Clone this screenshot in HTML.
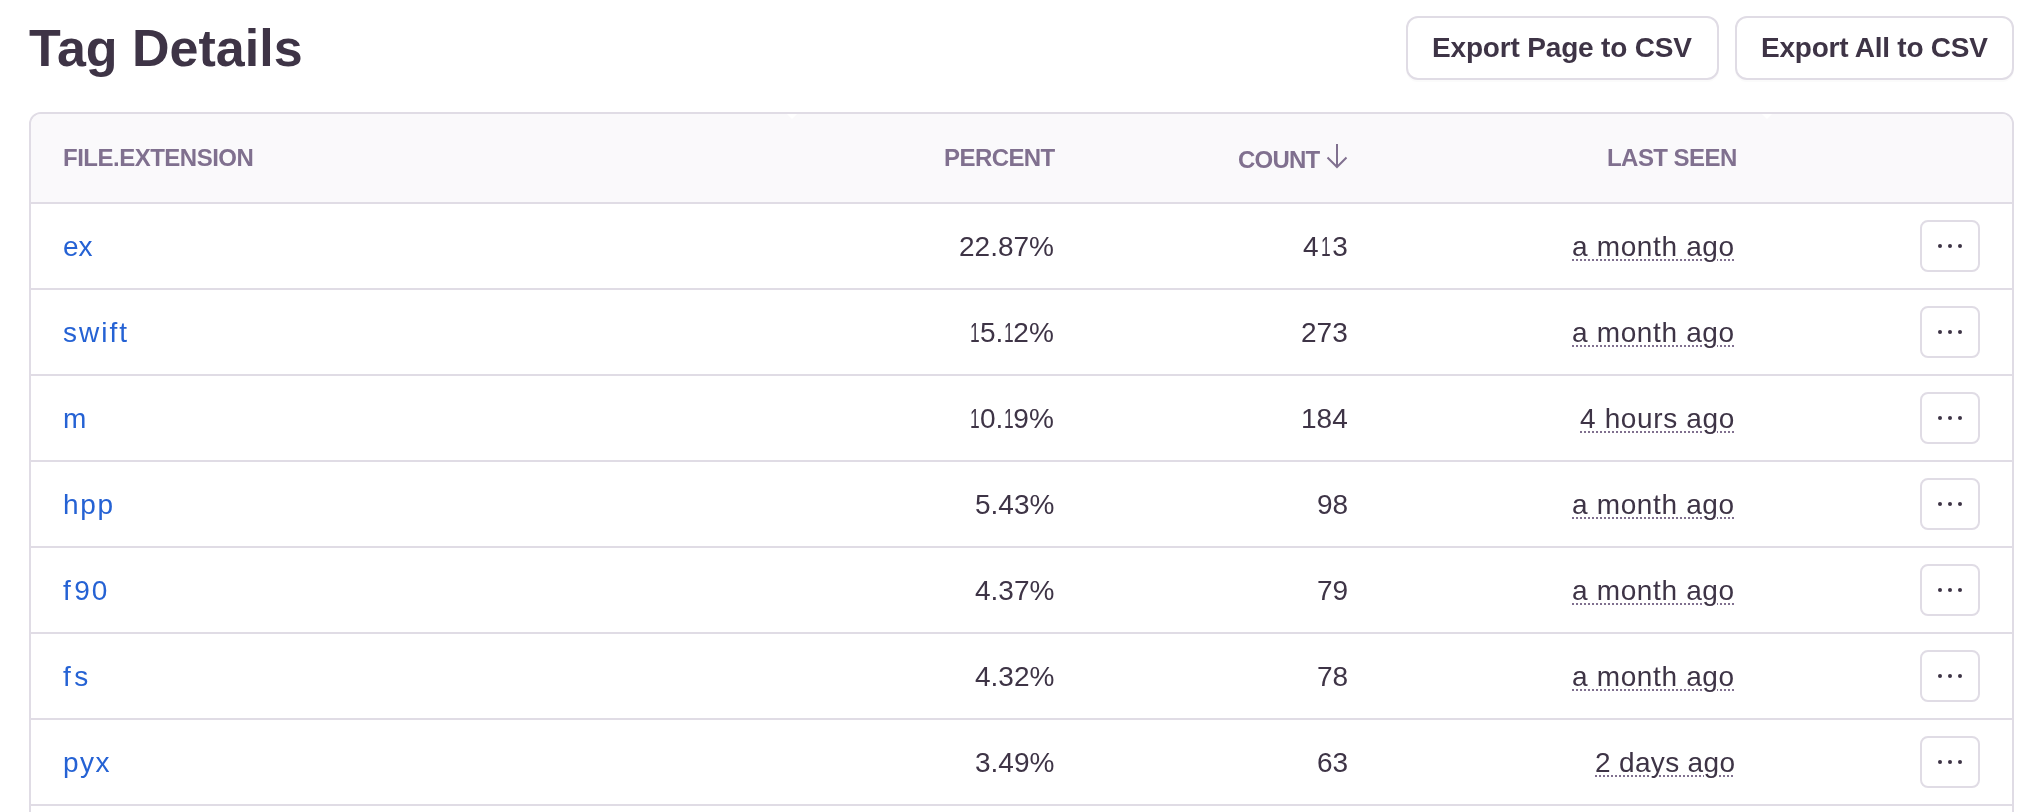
<!DOCTYPE html>
<html>
<head>
<meta charset="utf-8">
<style>
html,body{margin:0;padding:0;background:#fff;}
body{width:2024px;height:812px;overflow:hidden;position:relative;font-family:"Liberation Sans",sans-serif;}
.t{position:absolute;white-space:nowrap;will-change:transform;}
.title{left:29px;top:18px;font-size:52px;line-height:60px;font-weight:700;color:#3e3446;}
.btn{position:absolute;top:16px;height:64px;box-sizing:border-box;border:2px solid #e0dce5;border-radius:12px;background:#fff;box-shadow:0 2px 0 rgba(43,34,51,0.02);}
.bt{top:32px;line-height:32px;font-size:28px;font-weight:700;color:#3e3446;}
.panel{position:absolute;left:29px;top:112px;width:1985px;height:760px;box-sizing:border-box;border:2px solid #e0dce5;border-radius:12px;background:#fff;}
.headbg{position:absolute;left:31px;top:114px;width:1981px;height:88px;background:#faf9fb;border-radius:10px 10px 0 0;}
.tri{position:absolute;top:114px;width:0;height:0;border-left:5px solid transparent;border-right:5px solid transparent;border-top:5px solid #fff;}
.ln{position:absolute;left:31px;width:1981px;height:2px;background:#e0dce5;}
.hd{top:144px;line-height:28px;font-size:24px;font-weight:700;color:#80708f;}
.c{line-height:32px;font-size:28px;color:#3e3446;}
.one{display:inline-block;transform:scaleX(0.62);transform-origin:50% 0;margin:0 -2.8px;}
.lnk{color:#2562d4;}
.ts{text-decoration:underline dotted #80708f;text-decoration-thickness:2px;text-underline-offset:3px;}
.more{position:absolute;left:1920px;width:60px;height:52px;box-sizing:border-box;border:2px solid #e0dce5;border-radius:8px;background:#fff;}
.more i{position:absolute;top:22px;width:4px;height:4px;border-radius:50%;background:#3e3446;}
</style>
</head>
<body>
<div class="t title">Tag Details</div>
<div class="btn" style="left:1406px;width:313px;"></div>
<div class="t bt" style="left:1432px;letter-spacing:-0.17px;">Export Page to CSV</div>
<div class="btn" style="left:1735px;width:279px;"></div>
<div class="t bt" style="left:1761px;letter-spacing:-0.24px;">Export All to CSV</div>

<div class="panel"></div>
<div class="headbg"></div>
<div class="tri" style="left:787px"></div>
<div class="tri" style="left:1762px"></div>
<div class="t hd" style="left:63px;letter-spacing:-0.5px;">FILE.EXTENSION</div>
<div class="t hd" style="left:944px;letter-spacing:-0.57px;">PERCENT</div>
<div class="t hd" style="left:1238px;top:146px;letter-spacing:-0.8px;">COUNT</div>
<svg class="t" style="left:1326px;top:143px;" width="22" height="26" viewBox="0 0 22 26"><path d="M11 1V24.5M1.5 14.5L11 24L20.5 14.5" fill="none" stroke="#80708f" stroke-width="2"/></svg>
<div class="t hd" style="left:1607px;letter-spacing:-0.55px;">LAST SEEN</div>

<div class="ln" style="top:202px"></div>
<div class="ln" style="top:288px"></div>
<div class="ln" style="top:374px"></div>
<div class="ln" style="top:460px"></div>
<div class="ln" style="top:546px"></div>
<div class="ln" style="top:632px"></div>
<div class="ln" style="top:718px"></div>
<div class="ln" style="top:804px"></div>

<div id="rows"></div>
<div class="t c lnk" style="left:63px;top:231px;">ex</div>
<div class="t c" style="right:970px;top:231px;">22.87%</div>
<div class="t c" style="right:676px;top:231px;">4<span class="one" style="margin:0 -1px">1</span>3</div>
<div class="t c" style="right:289px;top:231px;"><span class="ts" style="letter-spacing:0.65px">a month ago</span></div>
<div class="more" style="top:220px"><i style="left:16px"></i><i style="left:26px"></i><i style="left:36px"></i></div>

<div class="t c lnk" style="left:63px;top:317px;letter-spacing:2.0px;">swift</div>
<div class="t c" style="right:970px;top:317px;"><span class="one">1</span>5.<span class="one">1</span>2%</div>
<div class="t c" style="right:676px;top:317px;">273</div>
<div class="t c" style="right:289px;top:317px;"><span class="ts" style="letter-spacing:0.65px">a month ago</span></div>
<div class="more" style="top:306px"><i style="left:16px"></i><i style="left:26px"></i><i style="left:36px"></i></div>

<div class="t c lnk" style="left:63px;top:403px;">m</div>
<div class="t c" style="right:970px;top:403px;"><span class="one">1</span>0.<span class="one">1</span>9%</div>
<div class="t c" style="right:676px;top:403px;">184</div>
<div class="t c" style="right:289px;top:403px;"><span class="ts" style="letter-spacing:0.65px">4 hours ago</span></div>
<div class="more" style="top:392px"><i style="left:16px"></i><i style="left:26px"></i><i style="left:36px"></i></div>

<div class="t c lnk" style="left:63px;top:489px;letter-spacing:1.65px;">hpp</div>
<div class="t c" style="right:970px;top:489px;">5.43%</div>
<div class="t c" style="right:676px;top:489px;">98</div>
<div class="t c" style="right:289px;top:489px;"><span class="ts" style="letter-spacing:0.65px">a month ago</span></div>
<div class="more" style="top:478px"><i style="left:16px"></i><i style="left:26px"></i><i style="left:36px"></i></div>

<div class="t c lnk" style="left:63px;top:575px;letter-spacing:2px;"><span style="letter-spacing:3.5px">f</span>90</div>
<div class="t c" style="right:970px;top:575px;">4.37%</div>
<div class="t c" style="right:676px;top:575px;">79</div>
<div class="t c" style="right:289px;top:575px;"><span class="ts" style="letter-spacing:0.65px">a month ago</span></div>
<div class="more" style="top:564px"><i style="left:16px"></i><i style="left:26px"></i><i style="left:36px"></i></div>

<div class="t c lnk" style="left:63px;top:661px;"><span style="letter-spacing:3.5px">f</span>s</div>
<div class="t c" style="right:970px;top:661px;">4.32%</div>
<div class="t c" style="right:676px;top:661px;">78</div>
<div class="t c" style="right:289px;top:661px;"><span class="ts" style="letter-spacing:0.65px">a month ago</span></div>
<div class="more" style="top:650px"><i style="left:16px"></i><i style="left:26px"></i><i style="left:36px"></i></div>

<div class="t c lnk" style="left:63px;top:747px;letter-spacing:1.5px;">pyx</div>
<div class="t c" style="right:970px;top:747px;">3.49%</div>
<div class="t c" style="right:676px;top:747px;">63</div>
<div class="t c" style="right:289px;top:747px;"><span class="ts" style="letter-spacing:0.33px">2 days ago</span></div>
<div class="more" style="top:736px"><i style="left:16px"></i><i style="left:26px"></i><i style="left:36px"></i></div>

</body>
</html>
